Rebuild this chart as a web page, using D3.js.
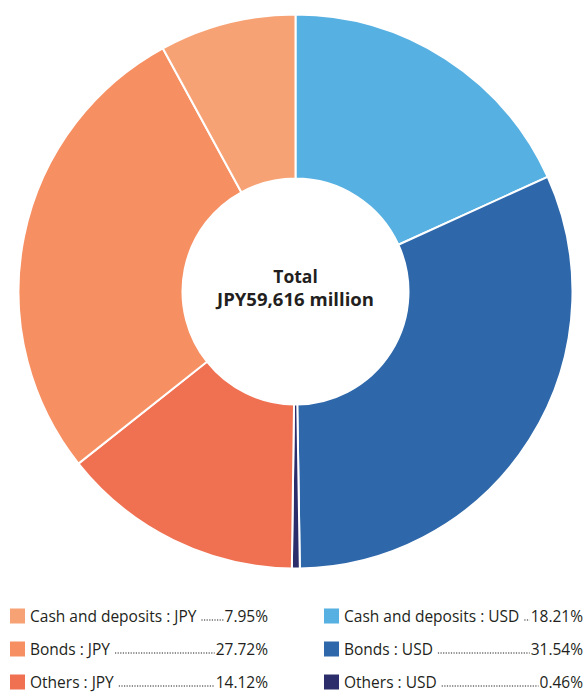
<!DOCTYPE html>
<html>
<head>
<meta charset="utf-8">
<script src="https://cdn.jsdelivr.net/npm/d3@7"></script>
<style>
  html, body { margin: 0; padding: 0; background: #fff; }
  svg { display: block; }
  text { font-family: "Open Sans", "Noto Sans", sans-serif; fill: #231f20; }
</style>
</head>
<body>
<svg id="chart" width="587" height="693"></svg>
<script>
// Portfolio composition, clockwise from 12 o'clock
const categories = [
  "Cash and deposits : USD",
  "Bonds : USD",
  "Others : USD",
  "Others : JPY",
  "Bonds : JPY",
  "Cash and deposits : JPY"
];
const shares = [18.21, 31.54, 0.46, 14.12, 27.72, 7.95];
const colors = ["#56b0e2", "#2e68aa", "#2b2e6b", "#f07052", "#f68f62", "#f7a275"];

// Legend arrangement: left column JPY, right column USD
const legendLeft = ["Cash and deposits : JPY", "Bonds : JPY", "Others : JPY"];
const legendRight = ["Cash and deposits : USD", "Bonds : USD", "Others : USD"];

const centerLines = ["Total", "JPY59,616 million"];

const svg = d3.select("#chart");
const cx = 295.5, cy = 291.5;
const outerR = 277, innerR = 113;

const color = d3.scaleOrdinal().domain(categories).range(colors);
const valueOf = d3.scaleOrdinal().domain(categories).range(shares);

const pie = d3.pie().sort(null).value(d => d.value);
const arc = d3.arc().innerRadius(innerR).outerRadius(outerR);

const slices = categories.map((c, i) => ({ name: c, value: shares[i] }));

const g = svg.append("g").attr("transform", `translate(${cx},${cy})`);
g.selectAll("path")
  .data(pie(slices))
  .join("path")
  .attr("d", arc)
  .attr("fill", d => color(d.data.name))
  .attr("stroke", "#fff")
  .attr("stroke-width", 2)
  .attr("stroke-linejoin", "miter");

// Centre label
g.append("text")
  .attr("text-anchor", "middle")
  .attr("y", -9)
  .style("font-size", "17.5px")
  .style("font-weight", 700)
  .text(centerLines[0]);
g.append("text")
  .attr("text-anchor", "middle")
  .attr("y", 14)
  .style("font-size", "17.5px")
  .style("font-weight", 700)
  .attr("textLength", 157)
  .attr("lengthAdjust", "spacingAndGlyphs")
  .text(centerLines[1]);

// Legend
const rowY = d3.scalePoint().domain([0, 1, 2]).range([616, 682]);
const columns = [
  { items: legendLeft, x: 10, right: 268 },
  { items: legendRight, x: 324, right: 583 }
];

columns.forEach(col => {
  col.items.forEach((name, i) => {
    const y = rowY(i);
    const row = svg.append("g");
    row.append("rect")
      .attr("x", col.x).attr("y", y - 7.5)
      .attr("width", 15).attr("height", 15)
      .attr("fill", color(name));
    const label = row.append("text")
      .attr("x", col.x + 20).attr("y", y + 5.5)
      .style("font-size", "15.5px")
      .text(name);
    const val = row.append("text")
      .attr("x", col.right).attr("y", y + 5.5)
      .attr("text-anchor", "end")
      .style("font-size", "15.5px")
      .text(valueOf(name).toFixed(2) + "%");
    const lEnd = col.x + 20 + label.node().getComputedTextLength() + 5;
    const vStart = col.right - val.node().getComputedTextLength() - 1;
    row.append("line")
      .attr("x1", lEnd).attr("x2", vStart)
      .attr("y1", y + 4).attr("y2", y + 4)
      .attr("stroke", "#231f20")
      .attr("stroke-width", 1.2)
      .attr("stroke-dasharray", "1.2,1.4");
  });
});
</script>
</body>
</html>
